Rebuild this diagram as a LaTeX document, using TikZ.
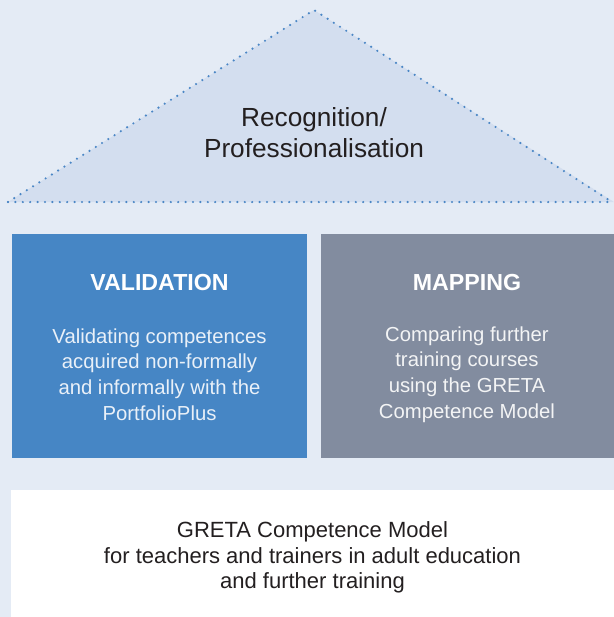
\documentclass[tikz,border=0pt]{standalone}
\usepackage{fontspec}
\setmainfont{Liberation Sans}
\usetikzlibrary{positioning}
\definecolor{bgblue}{HTML}{E4EBF5}
\definecolor{roofblue}{HTML}{D3DEEF}
\definecolor{dotblue}{HTML}{4A86C5}
\definecolor{valblue}{HTML}{4686C5}
\definecolor{mapgray}{HTML}{828C9F}
\definecolor{txtdark}{HTML}{231F20}

\begin{document}
\begin{tikzpicture}[x=0.5pt,y=-0.5pt,
	pillar/.style={minimum width=147.5pt,minimum height=112pt,inner sep=0pt},
	pillartitle/.style={text=white,font=\fontsize{11.6}{14}\selectfont\bfseries},
	pillartext/.style={align=center,font=\fontsize{10.15}{12.85}\selectfont},
	darktext/.style={text=txtdark,align=center},
	roofdots/.style={dotblue, line width=1.2pt, line cap=round, dash pattern=on 0pt off 3.7pt}
	]
	\useasboundingbox (0,0) rectangle (614,617);
	\fill[bgblue] (0,0) rectangle (614,617);
	
	% roof
	\fill[roofblue] (8,202) -- (314,10) -- (614,202) -- cycle;
	\draw[roofdots] (8,202) -- (314,10) -- (612,202);
	\draw[roofdots] (8,202) -- (614,202);
	\node[darktext, font=\fontsize{13.1}{15.5}\selectfont] (recog) at (314,132.5) {Recognition/\\Professionalisation};
	
	% pillars
	\node[pillar, fill=valblue] (val) at (159.5,346) {};
	\node[pillar, fill=mapgray, right=6.5pt of val] (map) {};
	\node[pillartitle] (valtitle) at (159.5,283) {VALIDATION};
	\node[pillartext, text=white!88!valblue] (valtext) at (159.5,374.5) {Validating competences\\acquired non-formally\\and informally with the\\PortfolioPlus};
	\node[pillartitle] (maptitle) at (467,283) {MAPPING};
	\node[pillartext, text=white!90!mapgray] (maptext) at (467,374.5) {Comparing further\\training courses\\using the GRETA\\Competence Model};
	
	% base
	\node[fill=white, minimum width=301.5pt, minimum height=63.5pt, inner sep=0pt] (base) at (312.5,553.5) {};
	\node[darktext, font=\fontsize{11}{12.75}\selectfont] (basetext) at (312.5,557.5) {GRETA Competence Model\\for teachers and trainers in adult education\\and further training};
\end{tikzpicture}
\end{document}
